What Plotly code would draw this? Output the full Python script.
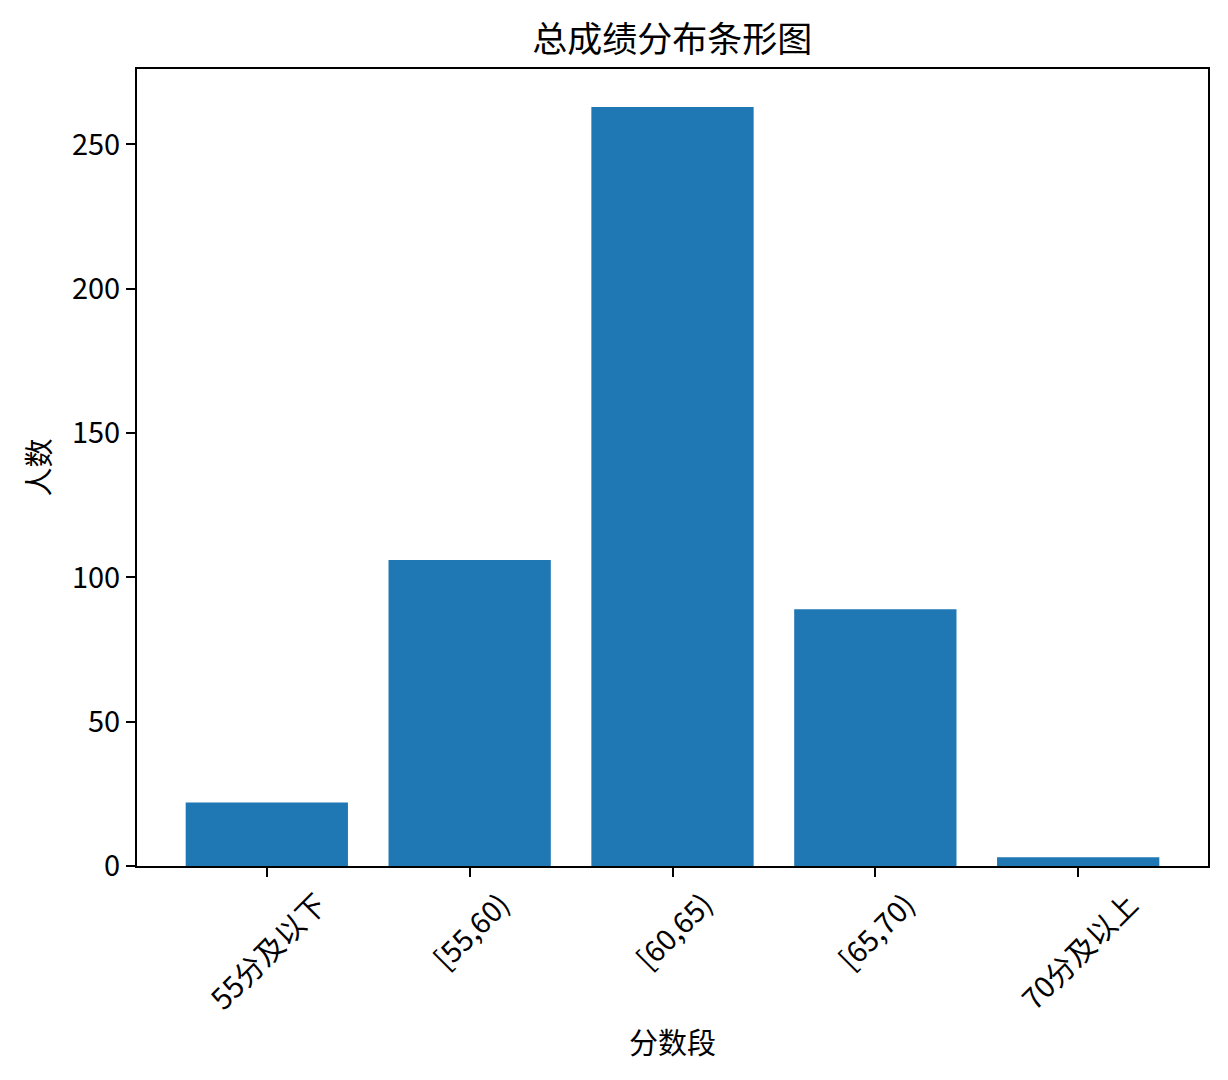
import plotly.graph_objects as go

# 分数段 和 人数
categories = ["55分及以下", "[55,60)", "[60,65)", "[65,70)", "70分及以上"]
counts = [22, 106, 263, 89, 3]
y_ticks = [0, 50, 100, 150, 200, 250]

font_family = "Noto Sans CJK SC, Liberation Sans, sans-serif"

fig = go.Figure()
fig.add_trace(go.Bar(x=categories, y=counts, width=0.8,
                     marker=dict(color="#1f77b4", line=dict(width=0))))

# rotated tick labels, centred under each tick like matplotlib
for c in categories:
    fig.add_annotation(x=c, xref="x", y=0, yref="paper", text=c,
                       textangle=-45, xanchor="center", yanchor="top",
                       yshift=-14, showarrow=False,
                       font=dict(family=font_family, size=29, color="black"))

# page body has an 8px margin, so the figure is a bit smaller than the window
fig.update_layout(
    width=1220, height=1072,
    margin=dict(l=129, r=20, t=61, b=214),
    paper_bgcolor="white", plot_bgcolor="white",
    showlegend=False,
    font=dict(family=font_family, size=29, color="black"),
    title=dict(text="总成绩分布条形图", x=0.5445, xanchor="center",
               y=0.970, yanchor="middle", font=dict(size=35)),
)
fig.update_xaxes(range=[-0.64, 4.64], showticklabels=False,
                 ticks="outside", ticklen=9, tickwidth=2, tickcolor="black",
                 showline=True, linecolor="black", linewidth=2, mirror=True,
                 showgrid=False, zeroline=False,
                 title=dict(text="分数段", standoff=158, font=dict(size=29)))
fig.update_yaxes(range=[0, 276.15], tickvals=y_ticks,
                 ticks="outside", ticklen=9, tickwidth=2, tickcolor="black",
                 showline=True, linecolor="black", linewidth=2, mirror=True,
                 showgrid=False, zeroline=False,
                 title=dict(text="人数", standoff=13, font=dict(size=29)))

fig.write_html("out.html")
